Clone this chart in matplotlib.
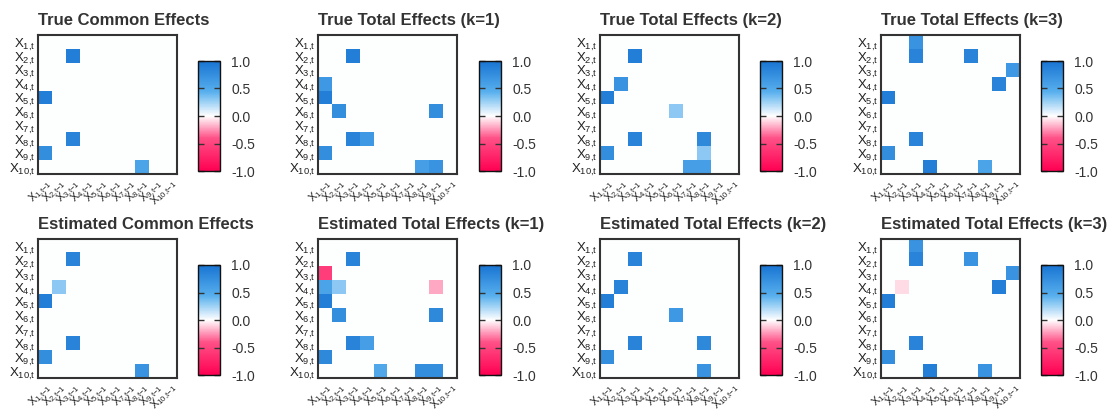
import numpy as np
import matplotlib
matplotlib.use("Agg")
import matplotlib.pyplot as plt
from matplotlib.colors import LinearSegmentedColormap

plt.rcParams['font.family'] = ['Liberation Sans', 'DejaVu Sans']
plt.rcParams['mathtext.default'] = 'regular'

# data: (row = X_i,t , col = X_j,t-1 , value), indices 1-based as in the labels
n_vars = 10
titles = ["True Common Effects", "True Total Effects (k=1)",
          "True Total Effects (k=2)", "True Total Effects (k=3)",
          "Estimated Common Effects", "Estimated Total Effects (k=1)",
          "Estimated Total Effects (k=2)", "Estimated Total Effects (k=3)"]

true_common = [(2, 3, 0.9), (5, 1, 0.9), (8, 3, 0.85), (9, 1, 0.75), (10, 8, 0.55)]
true_total_k1 = [(2, 3, 0.9), (4, 1, 0.65), (5, 1, 0.9), (6, 2, 0.75), (6, 9, 0.75),
                 (8, 3, 0.85), (8, 4, 0.65), (9, 1, 0.75), (10, 8, 0.6), (10, 9, 0.7)]
true_total_k2 = [(2, 3, 0.9), (4, 2, 0.7), (5, 1, 0.9), (6, 6, 0.3), (8, 3, 0.85),
                 (8, 8, 0.8), (9, 8, 0.3), (9, 1, 0.75), (10, 7, 0.6), (10, 8, 0.6)]
true_total_k3 = [(1, 3, 0.7), (2, 3, 0.85), (2, 7, 0.85), (3, 10, 0.65), (4, 9, 0.85),
                 (5, 1, 0.9), (8, 3, 0.85), (9, 1, 0.75), (10, 4, 0.9), (10, 8, 0.55)]
est_common = [(2, 3, 0.85), (4, 2, 0.3), (5, 1, 0.9), (8, 3, 0.85), (9, 1, 0.75),
              (10, 8, 0.7)]
est_total_k1 = [(2, 3, 0.85), (3, 1, -0.55), (4, 1, 0.55), (4, 2, 0.3), (4, 9, -0.2),
                (5, 1, 0.9), (6, 2, 0.75), (6, 9, 0.8), (8, 3, 0.85), (8, 4, 0.6),
                (9, 1, 0.8), (10, 5, 0.5), (10, 8, 0.75), (10, 9, 0.75)]
est_total_k2 = [(2, 3, 0.85), (4, 2, 0.85), (5, 1, 0.9), (6, 6, 0.65), (8, 3, 0.85),
                (8, 8, 0.8), (9, 1, 0.75), (10, 8, 0.7)]
est_total_k3 = [(1, 3, 0.7), (2, 3, 0.85), (2, 7, 0.7), (3, 10, 0.7), (4, 2, -0.08),
                (4, 9, 0.9), (5, 1, 0.9), (8, 3, 0.85), (9, 1, 0.75), (10, 4, 0.9),
                (10, 8, 0.7)]
panels = [true_common, true_total_k1, true_total_k2, true_total_k3,
          est_common, est_total_k1, est_total_k2, est_total_k3]

row_labels = [r'$X_{%d{,}t}$' % i for i in range(1, n_vars + 1)]
col_labels = [r'$X_{%d{,}t{-}1}$' % j for j in range(1, n_vars + 1)]
cbar_ticks = [-1.0, -0.5, 0.0, 0.5, 1.0]

cmap = LinearSegmentedColormap.from_list(
    "effects", [(0.0, "#ff0052"), (0.3, "#ff5288"), (0.5, "#ffffff"),
                (0.72, "#58b0ee"), (1.0, "#1874d2")])

W, H = 1109, 411
fig = plt.figure(figsize=(W / 100, H / 100), dpi=100)

heat_left = [38, 318, 600, 881]
cbar_left = [198, 479, 760, 1041]
heat_top = [35, 239]
cbar_top = [61, 265]
heat_size = 139
cbar_w, cbar_h = 22, 110

for p, entries in enumerate(panels):
    r, c = divmod(p, 4)
    mat = np.zeros((n_vars, n_vars))
    for i, j, v in entries:
        mat[i - 1, j - 1] = v

    ax = fig.add_axes([heat_left[c] / W, 1 - (heat_top[r] + heat_size) / H,
                       heat_size / W, heat_size / H])
    im = ax.imshow(mat, cmap=cmap, vmin=-1, vmax=1, interpolation='nearest', aspect='auto')
    ax.set_xticks(np.arange(n_vars))
    ax.set_yticks(np.arange(n_vars))
    ax.set_xticklabels(col_labels, rotation=45, ha='right', rotation_mode='anchor', fontsize=8)
    ax.set_yticklabels(row_labels, fontsize=9.5)
    ax.tick_params(axis='x', length=0, pad=2, colors='#222222')
    ax.tick_params(axis='y', length=0, pad=2, colors='#222222')
    for s in ax.spines.values():
        s.set_color('#333333')
        s.set_linewidth(1.5)
    ax.set_title(titles[p], loc='left', fontsize=12, fontweight='bold', color='#333333', pad=7)

    cax = fig.add_axes([cbar_left[c] / W, 1 - (cbar_top[r] + cbar_h) / H,
                        cbar_w / W, cbar_h / H])
    cb = fig.colorbar(im, cax=cax, ticks=cbar_ticks)
    cb.ax.set_yticklabels(['%.1f' % t for t in cbar_ticks])
    cb.ax.tick_params(direction='in', left=True, right=True, length=4, width=1,
                      color='#333333', labelsize=10, labelcolor='#333333', pad=8)
    cb.outline.set_linewidth(1)
    cb.outline.set_edgecolor('#111111')

fig.savefig("out.png", dpi=100)
